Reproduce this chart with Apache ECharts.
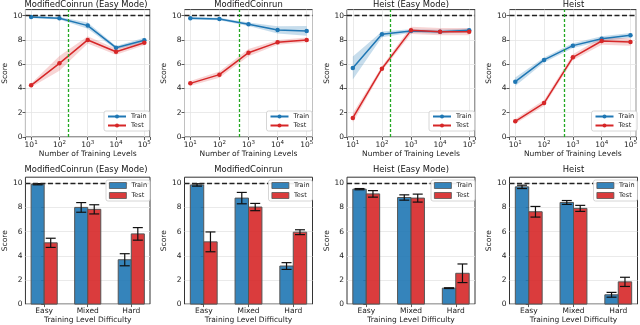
<!DOCTYPE html>
<html>
<head>
<meta charset="utf-8">
<script src="https://cdn.jsdelivr.net/npm/echarts@6/dist/echarts.min.js"></script>
<style>
  html, body { margin: 0; padding: 0; background: #fff; }
  #chart { width: 640px; height: 325px; }
</style>
</head>
<body>
<div id="chart"></div>
<script>
// panel titles, one per column
const titles = ["ModifiedCoinrun (Easy Mode)", "ModifiedCoinrun", "Heist (Easy Mode)", "Heist"];

// top row: score vs number of training levels
const levels = [10, 100, 1000, 10000, 100000];
const cutoffs = [200, 500, 200, 500];
const trainCurve = [
  [9.89, 9.78, 9.18, 7.36, 7.97],
  [9.78, 9.73, 9.29, 8.82, 8.74],
  [5.69, 8.46, 8.74, 8.68, 8.79],
  [4.56, 6.35, 7.53, 8.10, 8.38]
];
const trainCurveErr = [
  [0.1, 0.1, 0.25, 0.15, 0.2],
  [0.1, 0.1, 0.15, 0.3, 0.4],
  [0.95, 0.23, 0.15, 0.15, 0.15],
  [0.35, 0.2, 0.2, 0.2, 0.2]
];
const testCurve = [
  [4.26, 6.07, 8.00, 7.03, 7.77],
  [4.42, 5.14, 6.95, 7.80, 8.00],
  [1.57, 5.63, 8.79, 8.68, 8.68],
  [1.29, 2.80, 6.57, 7.91, 7.83]
];
const testCurveErr = [
  [0.15, 0.6, 0.3, 0.25, 0.2],
  [0.2, 0.25, 0.3, 0.2, 0.2],
  [0.38, 0.2, 0.3, 0.3, 0.3],
  [0.2, 0.25, 0.25, 0.3, 0.3]
];

// bottom row: score by training level difficulty
const difficulty = ["Easy", "Mixed", "Hard"];
const trainBars = [[9.92, 8.00, 3.67], [9.86, 8.77, 3.15], [9.51, 8.82, 1.32], [9.70, 8.41, 0.77]];
const trainBarErr = [[0.05, 0.4, 0.5], [0.1, 0.47, 0.28], [0.05, 0.22, 0.03], [0.14, 0.16, 0.2]];
const testBars = [[5.07, 7.84, 5.81], [5.15, 8.03, 5.95], [9.12, 8.77, 2.55], [7.64, 7.92, 1.84]];
const testBarErr = [[0.38, 0.38, 0.52], [0.82, 0.3, 0.2], [0.27, 0.33, 0.77], [0.44, 0.25, 0.38]];

const scoreTicks = [0, 2, 4, 6, 8, 10];
const maxScore = 10;

const blue = "#1f77b4";
const red = "#d62728";
const font = "DejaVu Sans";
const lefts = [22, 184.5, 347, 509.5];
const plotW = 128;

let chart = echarts.init(document.getElementById("chart"));

const tickStyle = { show: true, length: 3, lineStyle: { color: "#333", width: 0.8 } };
const gridLine = { show: true, lineStyle: { color: "#e4e4e4", width: 0.8 } };
const txt = { fontFamily: font, fontSize: 7.5, color: "#222" };

function bandItem(points, color) {
  return function (params, api) {
    if (params.dataIndex !== 0) return;
    let upper = points.map((d) => api.coord([d[0], d[2]]));
    let lower = points.map((d) => api.coord([d[0], d[1]])).reverse();
    return {
      type: "polygon",
      shape: { points: upper.concat(lower) },
      style: { fill: color }
    };
  };
}

function barItem(offset, color) {
  return function (params, api) {
    let cat = api.value(0), val = api.value(1), err = api.value(2);
    let tl = api.coord([cat + offset - 0.15, val]);
    let br = api.coord([cat + offset + 0.15, 0]);
    let hi = api.coord([cat + offset, val + err]);
    let lo = api.coord([cat + offset, val - err]);
    let cap = 5;
    let es = { stroke: "#111", lineWidth: 1.2 };
    return {
      type: "group",
      children: [
        { type: "rect", shape: { x: tl[0], y: tl[1], width: br[0] - tl[0], height: br[1] - tl[1] },
          style: { fill: color, stroke: "#555", lineWidth: 1 } },
        { type: "line", shape: { x1: hi[0], y1: hi[1], x2: lo[0], y2: lo[1] }, style: es },
        { type: "line", shape: { x1: hi[0] - cap, y1: hi[1], x2: hi[0] + cap, y2: hi[1] }, style: es },
        { type: "line", shape: { x1: lo[0] - cap, y1: lo[1], x2: lo[0] + cap, y2: lo[1] }, style: es }
      ]
    };
  };
}

let grids = [], xAxes = [], yAxes = [], series = [], legends = [], titleList = [];

for (let p = 0; p < 4; p++) {
  // ---- top row ----
  let g = 2 * p;
  grids.push({ left: lefts[p], top: 9.6, width: plotW, height: 127.4, show: true,
    borderColor: "#333", borderWidth: 1 });
  titleList.push({ text: titles[p], left: lefts[p] + plotW / 2, top: 0.5, textAlign: "center", padding: 0,
    textStyle: { fontFamily: font, fontSize: 8.4, fontWeight: "normal", color: "#111" } });
  xAxes.push({
    type: "log", logBase: 10, gridIndex: g,
    min: Math.pow(10, 0.8), max: Math.pow(10, 5.2),
    axisLine: { show: false }, axisTick: tickStyle, splitLine: gridLine,
    axisLabel: {
      margin: 3,
      formatter: function (v) {
        let e = Math.log10(v);
        if (Math.abs(e - Math.round(e)) > 1e-6) return "";
        return "{b|10}{s|" + Math.round(e) + "}";
      },
      rich: {
        b: { fontFamily: font, fontSize: 7.5, color: "#222", lineHeight: 10 },
        s: { fontFamily: font, fontSize: 5.5, color: "#222", lineHeight: 5, verticalAlign: "top" }
      }
    },
    name: "Number of Training Levels", nameLocation: "middle", nameGap: 13, nameTextStyle: txt
  });
  yAxes.push({
    type: "value", gridIndex: g, min: 0, max: 10.5,
    axisLine: { show: false },
    axisTick: Object.assign({ customValues: scoreTicks }, tickStyle),
    axisLabel: Object.assign({ customValues: scoreTicks, margin: 3 }, txt),
    splitLine: gridLine,
    name: "Score", nameLocation: "middle", nameGap: 13, nameTextStyle: txt
  });
  let trainPts = levels.map((x, i) => [x, trainCurve[p][i] - trainCurveErr[p][i], trainCurve[p][i] + trainCurveErr[p][i]]);
  let testPts = levels.map((x, i) => [x, testCurve[p][i] - testCurveErr[p][i], testCurve[p][i] + testCurveErr[p][i]]);
  series.push({ type: "custom", xAxisIndex: g, yAxisIndex: g, silent: true, z: 1,
    data: trainPts, encode: { x: 0, y: [1, 2] }, renderItem: bandItem(trainPts, "rgba(31,119,180,0.25)") });
  series.push({ type: "custom", xAxisIndex: g, yAxisIndex: g, silent: true, z: 1,
    data: testPts, encode: { x: 0, y: [1, 2] }, renderItem: bandItem(testPts, "rgba(214,39,40,0.2)") });
  series.push({
    name: "Train", type: "line", xAxisIndex: g, yAxisIndex: g, z: 3,
    data: levels.map((x, i) => [x, trainCurve[p][i]]),
    symbol: "circle", symbolSize: 4.5,
    lineStyle: { color: blue, width: 1.5 }, itemStyle: { color: blue },
    markLine: {
      silent: true, symbol: ["none", "none"], label: { show: false },
      data: [
        { yAxis: maxScore, lineStyle: { color: "#222", type: [5, 2.5], width: 1.3 } },
        { xAxis: cutoffs[p], lineStyle: { color: "#22a822", type: [3, 2], width: 1.3 } }
      ]
    }
  });
  series.push({
    name: "Test", type: "line", xAxisIndex: g, yAxisIndex: g, z: 3,
    data: levels.map((x, i) => [x, testCurve[p][i]]),
    symbol: "circle", symbolSize: 4.5,
    lineStyle: { color: red, width: 1.5 }, itemStyle: { color: red }
  });
  legends.push({
    data: ["Train", "Test"], orient: "vertical", left: lefts[p] + 82, top: 111, z: 10,
    padding: [2, 3], itemGap: 2, itemWidth: 18, itemHeight: 5,
    borderColor: "#ccc", borderWidth: 0.8, borderRadius: 2, backgroundColor: "rgba(255,255,255,0.92)",
    textStyle: { fontFamily: font, fontSize: 6.5, color: "#222" }
  });

  // ---- bottom row ----
  let h = 2 * p + 1;
  grids.push({ left: lefts[p], top: 177.2, width: plotW, height: 127.8, show: true,
    borderColor: "#333", borderWidth: 1 });
  titleList.push({ text: titles[p], left: lefts[p] + plotW / 2, top: 165.5, textAlign: "center", padding: 0,
    textStyle: { fontFamily: font, fontSize: 8.4, fontWeight: "normal", color: "#111" } });
  xAxes.push({
    type: "value", gridIndex: h, min: -0.43, max: 2.43,
    axisLine: { show: false },
    axisTick: Object.assign({ customValues: [0, 1, 2] }, tickStyle),
    axisLabel: Object.assign({ customValues: [0, 1, 2], margin: 3,
      formatter: (v) => difficulty[Math.round(v)] }, txt),
    splitLine: { show: false },
    name: "Training Level Difficulty", nameLocation: "middle", nameGap: 11, nameTextStyle: txt
  });
  yAxes.push({
    type: "value", gridIndex: h, min: 0, max: 10.5,
    axisLine: { show: false },
    axisTick: Object.assign({ customValues: scoreTicks }, tickStyle),
    axisLabel: Object.assign({ customValues: scoreTicks, margin: 3 }, txt),
    splitLine: gridLine,
    name: "Score", nameLocation: "middle", nameGap: 13, nameTextStyle: txt
  });
  series.push({
    name: "Train", type: "custom", xAxisIndex: h, yAxisIndex: h, z: 2,
    itemStyle: { color: "rgba(31,119,180,0.9)" },
    data: difficulty.map((d, i) => [i, trainBars[p][i], trainBarErr[p][i]]),
    encode: { x: 0, y: 1 }, renderItem: barItem(-0.15, "rgba(31,119,180,0.9)"),
    markLine: {
      silent: true, symbol: ["none", "none"], label: { show: false },
      data: [{ yAxis: maxScore, lineStyle: { color: "#222", type: [5, 2.5], width: 1.3 } }]
    }
  });
  series.push({
    name: "Test", type: "custom", xAxisIndex: h, yAxisIndex: h, z: 2,
    itemStyle: { color: "rgba(214,39,40,0.9)" },
    data: difficulty.map((d, i) => [i, testBars[p][i], testBarErr[p][i]]),
    encode: { x: 0, y: 1 }, renderItem: barItem(0.15, "rgba(214,39,40,0.9)")
  });
  legends.push({
    data: [
      { name: "Train", icon: "rect", itemStyle: { color: "rgba(31,119,180,0.9)", borderColor: "#555", borderWidth: 0.8 } },
      { name: "Test", icon: "rect", itemStyle: { color: "rgba(214,39,40,0.9)", borderColor: "#555", borderWidth: 0.8 } }
    ],
    orient: "vertical", left: lefts[p] + 84, top: 180, z: 10,
    padding: [2, 3], itemGap: 3, itemWidth: 17, itemHeight: 6,
    borderColor: "#ccc", borderWidth: 0.8, borderRadius: 2, backgroundColor: "rgba(255,255,255,0.92)",
    textStyle: { fontFamily: font, fontSize: 6.5, color: "#222" }
  });
}

let option = {
  animation: false,
  title: titleList,
  grid: grids,
  xAxis: xAxes,
  yAxis: yAxes,
  legend: legends,
  series: series
};
option && chart.setOption(option);
</script>
</body>
</html>
